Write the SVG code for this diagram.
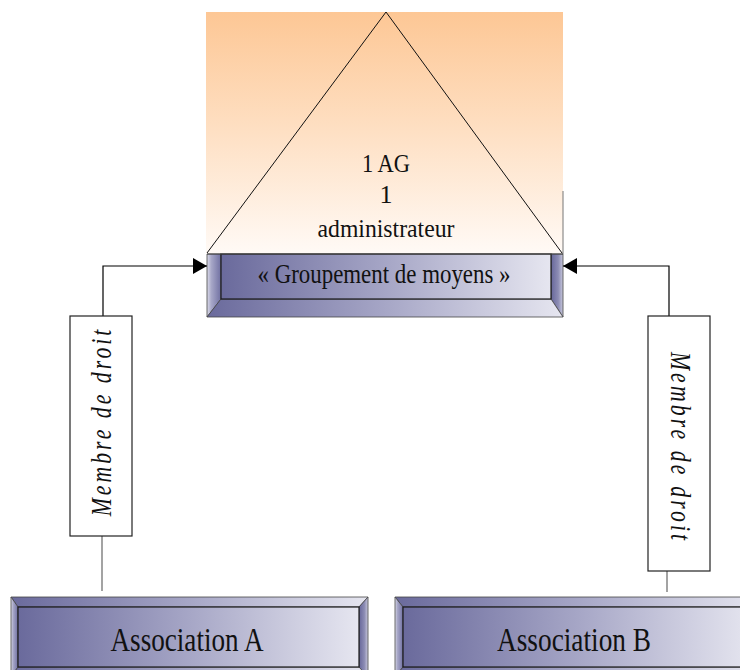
<svg xmlns="http://www.w3.org/2000/svg" width="740" height="670" viewBox="0 0 740 670">
  <defs>
    <linearGradient id="peach" x1="0" y1="0" x2="0" y2="1">
      <stop offset="0" stop-color="#fdc795"/>
      <stop offset="0.5" stop-color="#fee0c4"/>
      <stop offset="1" stop-color="#fffaf6"/>
    </linearGradient>
    <linearGradient id="face" x1="0" y1="0" x2="1" y2="0">
      <stop offset="0" stop-color="#6a6a9c"/>
      <stop offset="0.5" stop-color="#a6a6c6"/>
      <stop offset="1" stop-color="#e6e6f0"/>
    </linearGradient>
    <linearGradient id="bevelL" x1="0" y1="0" x2="1" y2="0">
      <stop offset="0" stop-color="#dcdcea"/>
      <stop offset="0.3" stop-color="#a8a8c8"/>
      <stop offset="1" stop-color="#7070a2"/>
    </linearGradient>
    <linearGradient id="bevelR" x1="0" y1="0" x2="1" y2="0">
      <stop offset="0" stop-color="#66669a"/>
      <stop offset="0.6" stop-color="#8c8cb4"/>
      <stop offset="1" stop-color="#c8c8dc"/>
    </linearGradient>
    <marker id="arrow" viewBox="0 0 14 16" refX="14" refY="8" markerWidth="14" markerHeight="16" markerUnits="userSpaceOnUse" orient="auto">
      <path d="M0,0 L14,8 L0,16 Z" fill="#000"/>
    </marker>
    <style>
      .serif { font-family: "Liberation Serif", "Times New Roman", serif; fill: #111; }
      .bevel { stroke: #444; stroke-width: 0.8; stroke-linejoin: miter; }
      .faceEdge { fill: url(#face); stroke: #1a1a1a; stroke-width: 1.2; }
      .link { fill: none; stroke: #000; stroke-width: 1.2; }
      .stub { fill: none; stroke: #666; stroke-width: 1.2; }
      .tag { fill: #fff; stroke: #222; stroke-width: 1.2; }
      .tagText { font-family: "Liberation Serif", "Times New Roman", serif; font-style: italic; font-size: 29px; fill: #111; }
    </style>
  </defs>

  <rect width="740" height="670" fill="#fff"/>

  <!-- Governance pyramid on a peach backdrop -->
  <g id="pyramid">
    <rect x="206" y="12" width="357" height="242" fill="url(#peach)"/>
    <line x1="563" y1="191" x2="563" y2="254" stroke="#777" stroke-width="1"/>
    <path d="M207,253 L386,12 L562,253" fill="none" stroke="#111" stroke-width="1"/>
    <text class="serif" font-size="26" text-anchor="middle" x="386" y="172" textLength="48" lengthAdjust="spacingAndGlyphs">1 AG</text>
    <text class="serif" font-size="26" text-anchor="middle" x="386" y="203">1</text>
    <text class="serif" font-size="26" text-anchor="middle" x="386" y="237" textLength="137" lengthAdjust="spacingAndGlyphs">administrateur</text>
  </g>

  <!-- « Groupement de moyens » bevelled box -->
  <g id="groupement">
    <polygon class="bevel" fill="url(#bevelL)" points="207,254 221,254 221,299 207,317"/>
    <polygon class="bevel" fill="url(#bevelR)" points="551,254 563,254 563,317 551,299"/>
    <polygon class="bevel" fill="url(#face)" points="207,317 221,299 551,299 563,317"/>
    <rect class="faceEdge" x="221" y="254" width="330" height="45"/>
    <line x1="207" y1="254" x2="563" y2="254" stroke="#444" stroke-width="1"/>
    <text class="serif" font-size="27" text-anchor="middle" x="384" y="283" textLength="253" lengthAdjust="spacingAndGlyphs">« Groupement de moyens »</text>
  </g>

  <!-- Association A bevelled box -->
  <g id="association-a">
    <polygon class="bevel" fill="url(#face)" points="11,597 368,597 359,607 18,607"/>
    <polygon class="bevel" fill="url(#bevelL)" points="11,597 18,607 18,667 11,677"/>
    <polygon class="bevel" fill="url(#bevelR)" points="368,597 368,677 359,667 359,607"/>
    <polygon class="bevel" fill="url(#face)" points="11,677 18,667 359,667 368,677"/>
    <rect class="faceEdge" x="18" y="607" width="341" height="60"/>
    <text class="serif" font-size="33" text-anchor="middle" x="187" y="651" textLength="153" lengthAdjust="spacingAndGlyphs">Association A</text>
  </g>

  <!-- Association B bevelled box -->
  <g id="association-b">
    <polygon class="bevel" fill="url(#face)" points="395,597 762,597 753,607 403,607"/>
    <polygon class="bevel" fill="url(#bevelL)" points="395,597 403,607 403,667 395,677"/>
    <polygon class="bevel" fill="url(#face)" points="395,677 403,667 753,667 762,677"/>
    <rect class="faceEdge" x="403" y="607" width="350" height="60"/>
    <text class="serif" font-size="33" text-anchor="middle" x="574" y="651" textLength="154" lengthAdjust="spacingAndGlyphs">Association B</text>
  </g>

  <!-- Membership links -->
  <g id="connectors">
    <path class="link" d="M103,316 V266 H207" marker-end="url(#arrow)"/>
    <path class="link" d="M669,316 V266 H563" marker-end="url(#arrow)"/>
    <line class="stub" x1="102" y1="536" x2="102" y2="591"/>
    <line class="stub" x1="667" y1="571" x2="667" y2="592"/>
  </g>

  <!-- Link labels: narrow glyphs, spread out along the box -->
  <g id="label-left">
    <rect class="tag" x="70" y="316" width="62" height="220"/>
    <text class="tagText" text-anchor="middle" transform="translate(111,423) rotate(-90) scale(0.75,1)" textLength="249" lengthAdjust="spacing">Membre de droit</text>
  </g>
  <g id="label-right">
    <rect class="tag" x="648" y="316" width="62" height="255"/>
    <text class="tagText" text-anchor="middle" transform="translate(671,446) rotate(90) scale(0.75,1)" textLength="251" lengthAdjust="spacing">Membre de droit</text>
  </g>
</svg>
